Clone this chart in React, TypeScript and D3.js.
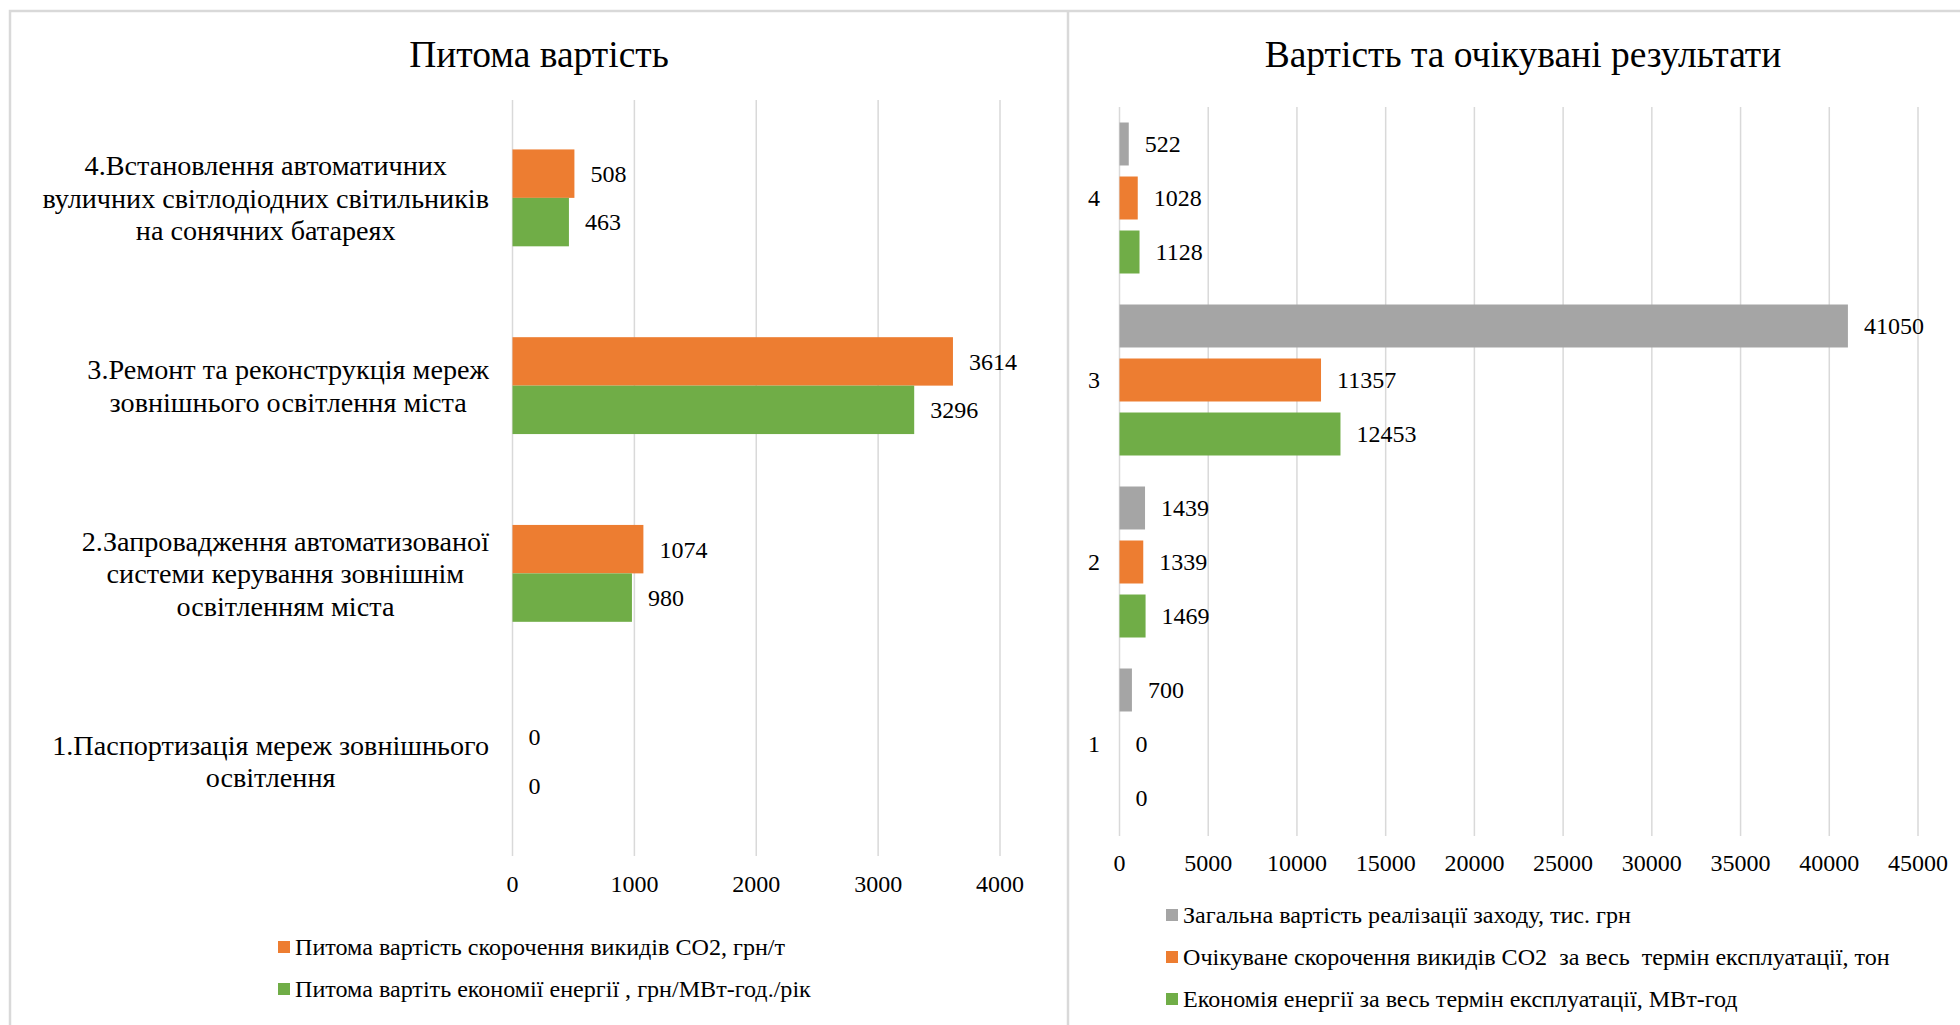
import React, { useEffect, useRef } from "react";
import * as d3 from "d3";

// ---------- DATA ----------
const leftCategories = ["1", "2", "3", "4"];
const leftCategoryLines: string[][] = [
  ["1.Паспортизація мереж зовнішнього", "освітлення"],
  ["2.Запровадження автоматизованої", "системи керування зовнішнім", "освітленням міста"],
  ["3.Ремонт та реконструкція мереж", "зовнішнього освітлення міста"],
  ["4.Встановлення автоматичних", "вуличних світлодіодних світильників", "на сонячних батареях"],
];
const leftCo2Cost = [0, 1074, 3614, 508];
const leftEnergyCost = [0, 980, 3296, 463];
const leftTicks = [0, 1000, 2000, 3000, 4000];
const leftSeriesNames = [
  "Питома вартість скорочення викидів CO2, грн/т",
  "Питома вартіть економії енергії , грн/МВт-год./рік",
];

const rightCategories = ["1", "2", "3", "4"];
const rightTotalCost = [700, 1439, 41050, 522];
const rightCo2Reduction = [0, 1339, 11357, 1028];
const rightEnergySaving = [0, 1469, 12453, 1128];
const rightTicks = [0, 5000, 10000, 15000, 20000, 25000, 30000, 35000, 40000, 45000];
const rightSeriesNames = [
  "Загальна вартість реалізації заходу, тис. грн",
  "Очікуване скорочення викидів CO2  за весь  термін експлуатації, тон",
  "Економія енергії за весь термін експлуатації, МВт-год",
];

const leftTitle = "Питома вартість";
const rightTitle = "Вартість та очікувані результати";

// ---------- STYLE ----------
const W = 1960;
const H = 1025;
const FONT = "'Liberation Serif', 'Times New Roman', serif";
const ORANGE = "#ED7D31";
const GREEN = "#70AD47";
const GREY = "#A5A5A5";
const GRID = "#D9D9D9";
const TITLE_SIZE = 37.5;
const CAT_SIZE = 28.2;
const LABEL_SIZE = 24;
const TICK_SIZE = 24;
const LEGEND_SIZE = 24.1;

export default function App() {
  const ref = useRef<SVGSVGElement | null>(null);

  useEffect(() => {
    const svg = d3.select(ref.current!);
    svg.selectAll("*").remove();

    svg.append("rect").attr("width", W).attr("height", H).attr("fill", "#fff");

    // panel borders
    svg
      .append("path")
      .attr("d", `M10,${H + 5} L10,11 L1068,11 L1068,${H + 5} M1068,11 L${W + 5},11`)
      .attr("fill", "none")
      .attr("stroke", GRID)
      .attr("stroke-width", 2.5);

    // ---------------- LEFT CHART ----------------
    const L = svg.append("g").attr("font-family", FONT).attr("fill", "#000");
    L.append("text")
      .attr("x", 539)
      .attr("y", 67)
      .attr("text-anchor", "middle")
      .attr("font-size", TITLE_SIZE)
      .text(leftTitle);

    const lx = d3.scaleLinear().domain([0, 4000]).range([512.5, 1000]);
    const ly = d3.scaleBand<string>().domain([...leftCategories].reverse()).range([104, 855]);
    const lInner = d3
      .scaleBand<string>()
      .domain(["co2", "energy"])
      .range([0, ly.bandwidth()])
      .paddingInner(0)
      .paddingOuter(0.938);

    L.append("g")
      .selectAll("line")
      .data(leftTicks)
      .join("line")
      .attr("x1", (d) => lx(d))
      .attr("x2", (d) => lx(d))
      .attr("y1", 100)
      .attr("y2", 856)
      .attr("stroke", GRID)
      .attr("stroke-width", 1.5);

    L.append("g")
      .selectAll("text")
      .data(leftTicks)
      .join("text")
      .attr("x", (d) => lx(d))
      .attr("y", 884)
      .attr("dy", "0.35em")
      .attr("text-anchor", "middle")
      .attr("font-size", TICK_SIZE)
      .text((d) => String(d));

    const leftSeries = [
      { key: "co2", values: leftCo2Cost, color: ORANGE },
      { key: "energy", values: leftEnergyCost, color: GREEN },
    ];
    leftSeries.forEach((s) => {
      const g = L.append("g");
      leftCategories.forEach((c, i) => {
        const y = ly(c)! + lInner(s.key)!;
        const h = lInner.bandwidth();
        g.append("rect")
          .attr("x", lx(0))
          .attr("y", y)
          .attr("width", Math.max(0, lx(s.values[i]) - lx(0)))
          .attr("height", h)
          .attr("fill", s.color);
        g.append("text")
          .attr("x", lx(s.values[i]) + 16)
          .attr("y", y + h / 2)
          .attr("dy", "0.35em")
          .attr("font-size", LABEL_SIZE)
          .text(String(s.values[i]));
      });
    });

    // category labels: block right-aligned, lines centered in block
    const lineGap = 32.5;
    leftCategories.forEach((c, i) => {
      const lines = leftCategoryLines[i];
      const cy = ly(c)! + ly.bandwidth() / 2;
      const g = L.append("g").attr("font-size", CAT_SIZE);
      const texts = lines.map((ln, k) =>
        g
          .append("text")
          .attr("y", cy + (k - (lines.length - 1) / 2) * lineGap)
          .attr("dy", "0.35em")
          .attr("text-anchor", "middle")
          .text(ln)
      );
      const widths = texts.map((t) => (t.node() as SVGTextElement).getComputedTextLength());
      const maxW = Math.max(...widths);
      const right = 489;
      texts.forEach((t) => t.attr("x", right - maxW / 2));
    });

    // legend
    const leftLegendColors = [ORANGE, GREEN];
    leftSeriesNames.forEach((name, i) => {
      const y = 947 + i * 42;
      L.append("rect").attr("x", 278).attr("y", y - 6).attr("width", 12).attr("height", 12).attr("fill", leftLegendColors[i]);
      L.append("text")
        .attr("x", 295)
        .attr("y", y)
        .attr("dy", "0.35em")
        .attr("font-size", LEGEND_SIZE)
        .style("white-space", "pre")
        .text(name);
    });

    // ---------------- RIGHT CHART ----------------
    const R = svg.append("g").attr("font-family", FONT).attr("fill", "#000");
    R.append("text")
      .attr("x", 1523)
      .attr("y", 67)
      .attr("text-anchor", "middle")
      .attr("font-size", TITLE_SIZE)
      .text(rightTitle);

    const rx = d3.scaleLinear().domain([0, 45000]).range([1119.5, 1918]);
    const ry = d3.scaleBand<string>().domain([...rightCategories].reverse()).range([107, 835]);
    const rInner = d3
      .scaleBand<string>()
      .domain(["total", "co2", "energy"])
      .range([0, ry.bandwidth()])
      .paddingInner(0.204)
      .paddingOuter(0.287);

    R.append("g")
      .selectAll("line")
      .data(rightTicks)
      .join("line")
      .attr("x1", (d) => rx(d))
      .attr("x2", (d) => rx(d))
      .attr("y1", 107)
      .attr("y2", 836)
      .attr("stroke", GRID)
      .attr("stroke-width", 1.5);

    R.append("g")
      .selectAll("text")
      .data(rightTicks)
      .join("text")
      .attr("x", (d) => rx(d))
      .attr("y", 863)
      .attr("dy", "0.35em")
      .attr("text-anchor", "middle")
      .attr("font-size", TICK_SIZE)
      .text((d) => String(d));

    const rightSeries = [
      { key: "total", values: rightTotalCost, color: GREY },
      { key: "co2", values: rightCo2Reduction, color: ORANGE },
      { key: "energy", values: rightEnergySaving, color: GREEN },
    ];
    rightSeries.forEach((s) => {
      const g = R.append("g");
      rightCategories.forEach((c, i) => {
        const y = ry(c)! + rInner(s.key)!;
        const h = rInner.bandwidth();
        g.append("rect")
          .attr("x", rx(0))
          .attr("y", y)
          .attr("width", Math.max(0, rx(s.values[i]) - rx(0)))
          .attr("height", h)
          .attr("fill", s.color);
        g.append("text")
          .attr("x", rx(s.values[i]) + 16)
          .attr("y", y + h / 2)
          .attr("dy", "0.35em")
          .attr("font-size", LABEL_SIZE)
          .text(String(s.values[i]));
      });
    });

    R.append("g")
      .selectAll("text")
      .data(rightCategories)
      .join("text")
      .attr("x", 1100)
      .attr("y", (d) => ry(d)! + ry.bandwidth() / 2)
      .attr("dy", "0.35em")
      .attr("text-anchor", "end")
      .attr("font-size", LABEL_SIZE)
      .text((d) => d);

    const rightLegendColors = [GREY, ORANGE, GREEN];
    rightSeriesNames.forEach((name, i) => {
      const y = 915 + i * 42;
      R.append("rect").attr("x", 1166).attr("y", y - 6).attr("width", 12).attr("height", 12).attr("fill", rightLegendColors[i]);
      R.append("text")
        .attr("x", 1183)
        .attr("y", y)
        .attr("dy", "0.35em")
        .attr("font-size", LEGEND_SIZE)
        .style("white-space", "pre")
        .text(name);
    });
  }, []);

  return (
    <div style={{ position: "absolute", left: 0, top: 0, width: W, height: H, overflow: "hidden" }}>
      <svg ref={ref} width={W} height={H} style={{ display: "block" }} />
    </div>
  );
}
